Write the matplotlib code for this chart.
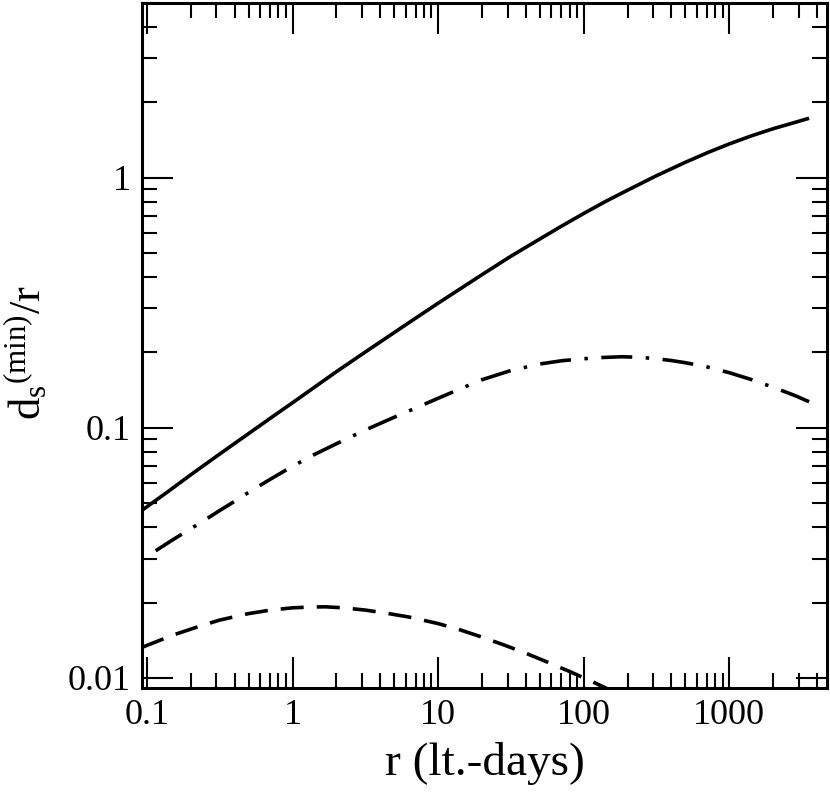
import matplotlib
matplotlib.use("Agg")
import matplotlib.pyplot as plt
from matplotlib.ticker import FixedLocator, FixedFormatter, LogLocator, NullFormatter

plt.rcParams['font.family'] = ['Liberation Serif', 'DejaVu Serif']
plt.rcParams['mathtext.fontset'] = 'custom'
plt.rcParams['mathtext.rm'] = 'Liberation Serif'
plt.rcParams['mathtext.it'] = 'Liberation Serif'
plt.rcParams['lines.scale_dashes'] = False

# ---- data ----
solid_x = [0.0925, 0.1413, 0.2, 0.3162, 0.5, 0.7079, 1, 1.413, 2, 3.162, 5, 7.079, 10, 14.13, 20,
           31.62, 50, 70.79, 100, 141.3, 200, 316.2, 500, 707.9, 1000, 1413, 2000, 2818, 3532]
solid_y = [0.04677, 0.05585, 0.06486, 0.07852, 0.09484, 0.1094, 0.1259, 0.1452, 0.1675, 0.2009,
           0.2404, 0.2754, 0.3148, 0.3589, 0.4093, 0.4853, 0.5689, 0.6412, 0.7194, 0.8035, 0.8913,
           1.0186, 1.153, 1.259, 1.365, 1.469, 1.570, 1.663, 1.729]

dashdot_x = [0.1148, 0.1514, 0.2, 0.2512, 0.3162, 0.3981, 0.5, 0.7079, 1, 1.413, 2, 3.162, 5, 7.079,
             10, 14.13, 20, 31.62, 50, 70.79, 100, 134.9, 182.0, 239.9, 316.2, 398.1, 500, 707.9,
             1000, 1413, 2000, 2818, 3532]
dashdot_y = [0.03221, 0.03573, 0.03945, 0.04285, 0.04667, 0.05070, 0.05521, 0.06237, 0.07015,
             0.07816, 0.08630, 0.09795, 0.1102, 0.1202, 0.1312, 0.1429, 0.1556, 0.1694, 0.1799,
             0.1854, 0.1888, 0.1910, 0.1923, 0.1914, 0.1888, 0.1858, 0.1820, 0.1750, 0.1660,
             0.1560, 0.1452, 0.1346, 0.1271]

dashed_x = [0.0925, 0.1202, 0.1514, 0.2239, 0.3162, 0.5, 0.7079, 1, 1.318, 1.683, 2.239, 3.162,
            4.467, 6.310, 10, 14.13, 20, 28.18, 39.81, 56.23, 79.43, 112.2, 158.5]
dashed_y = [0.01324, 0.01406, 0.01483, 0.01600, 0.01702, 0.01807, 0.01866, 0.01905, 0.01919,
            0.01923, 0.01905, 0.01866, 0.01811, 0.01750, 0.01648, 0.01556, 0.01455, 0.01355,
            0.01256, 0.01156, 0.01062, 0.009705, 0.008831]

x_ticks = [0.1, 1, 10, 100, 1000]
x_tick_labels = ["0.1", "1", "10", "100", "1000"]
y_ticks = [0.01, 0.1, 1]
y_tick_labels = ["0.01", "0.1", "1"]

xlim = (0.0925, 4690)
ylim = (0.00908, 5.01)

# ---- figure ----
fig = plt.figure(figsize=(8.30, 7.92), dpi=100)
ax = fig.add_axes([142 / 830, 1 - 688.3 / 792, (827 - 142) / 830, (688.3 - 2.7) / 792])

lw = 2.6
ax.plot(solid_x, solid_y, color='black', lw=lw, solid_capstyle='butt', solid_joinstyle='round')
l2, = ax.plot(dashdot_x, dashdot_y, color='black', lw=lw, dash_capstyle='butt')
l2.set_dashes([22.3, 9.7, 2.5, 9.7])
l3, = ax.plot(dashed_x, dashed_y, color='black', lw=lw, dash_capstyle='butt')
l3.set_dashes([16.6, 9.4])

ax.set_xscale('log')
ax.set_yscale('log')
ax.set_xlim(*xlim)
ax.set_ylim(*ylim)

ax.xaxis.set_major_locator(FixedLocator(x_ticks))
ax.xaxis.set_major_formatter(FixedFormatter(x_tick_labels))
ax.yaxis.set_major_locator(FixedLocator(y_ticks))
ax.yaxis.set_major_formatter(FixedFormatter(y_tick_labels))
ax.xaxis.set_minor_locator(LogLocator(base=10, subs=range(2, 10), numticks=50))
ax.yaxis.set_minor_locator(LogLocator(base=10, subs=range(2, 10), numticks=50))
ax.xaxis.set_minor_formatter(NullFormatter())
ax.yaxis.set_minor_formatter(NullFormatter())

ax.tick_params(which='both', direction='in', top=True, right=True, width=1.5, colors='black')
ax.tick_params(which='major', length=22, labelsize=26)
ax.tick_params(axis='x', which='major', pad=8)
ax.tick_params(axis='y', which='major', pad=8)
ax.tick_params(which='minor', length=11)

for s in ax.spines.values():
    s.set_linewidth(2.2)
    s.set_color('black')

ax.set_xlabel("r (lt.-days)", fontsize=34)
ax.xaxis.set_label_coords(0.5, -0.078)
ax.set_ylabel(r"$\mathrm{d}_{\mathrm{s}}{}^{(\mathrm{min})}/\mathrm{r}$", fontsize=32)
ax.yaxis.set_label_coords(-0.135, 0.49)

fig.savefig("out.png", dpi=100)
